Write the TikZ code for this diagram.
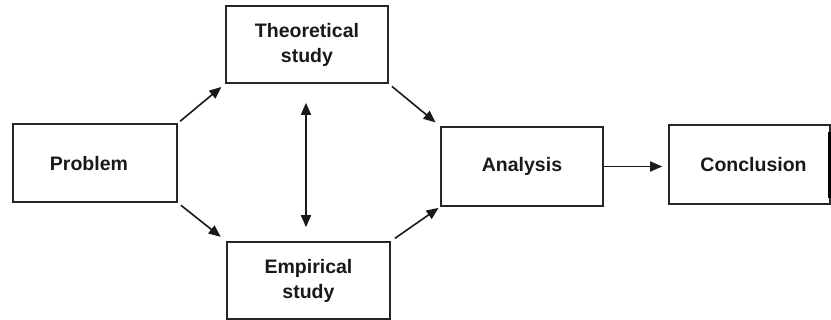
\documentclass[tikz,border=0pt]{standalone}
\usepackage{fontspec}
\setmainfont{Liberation Sans}
\usetikzlibrary{arrows.meta}
\begin{document}
\begin{tikzpicture}[x=1pt,y=-1pt,
  box/.style={draw=black!85,line width=1.6pt,minimum width=#1,inner sep=0pt,align=center,text=black!90,font=\fontsize{19.5}{25}\selectfont\bfseries},
  conn/.style={draw=black!90,line width=1.6pt,-{Triangle[length=12pt,width=10pt]}},
  dconn/.style={draw=black!90,line width=1.6pt,{Triangle[length=12pt,width=10pt]}-{Triangle[length=12pt,width=10pt]}}]
\useasboundingbox (0,0) rectangle (831,320);
\node[box=164pt,minimum height=78pt,text depth=0pt] (P) at (95,163) {\hspace*{-12pt}Problem};
\node[box=162pt,minimum height=77pt] (T) at (307,44.5) {Theoretical\\study};
\node[box=163pt,minimum height=77pt] (E) at (308.5,280.5) {Empirical\\study};
\node[box=162pt,minimum height=79pt] (A) at (522,166.5) {Analysis};
\node[box=161pt,minimum height=79pt] (C) at (749.5,164.5) {\hspace*{8pt}Conclusion};
\coordinate (Ca) at (829.5,132);
\coordinate (Cb) at (829.5,198);
\draw[line width=3pt] (Ca) -- (Cb);
\draw[conn,shorten <=3pt,shorten >=5pt] (P.north east) -- (T.south west);
\draw[conn,shorten <=4pt,shorten >=7pt] (P.south east) -- (E.north west);
\draw[conn,shorten <=4pt,shorten >=6pt] (T.south east) -- (A.north west);
\draw[conn,shorten <=5pt,shorten >=2pt] (E.north east) -- (A.south west);
\draw[dconn,shorten <=19pt,shorten >=14pt] (T.south) ++(-1,0) -- ([xshift=-2.5pt]E.north);
\draw[conn,shorten >=6pt] (A.east) -- (A.east -| C.west);
\end{tikzpicture}
\end{document}
